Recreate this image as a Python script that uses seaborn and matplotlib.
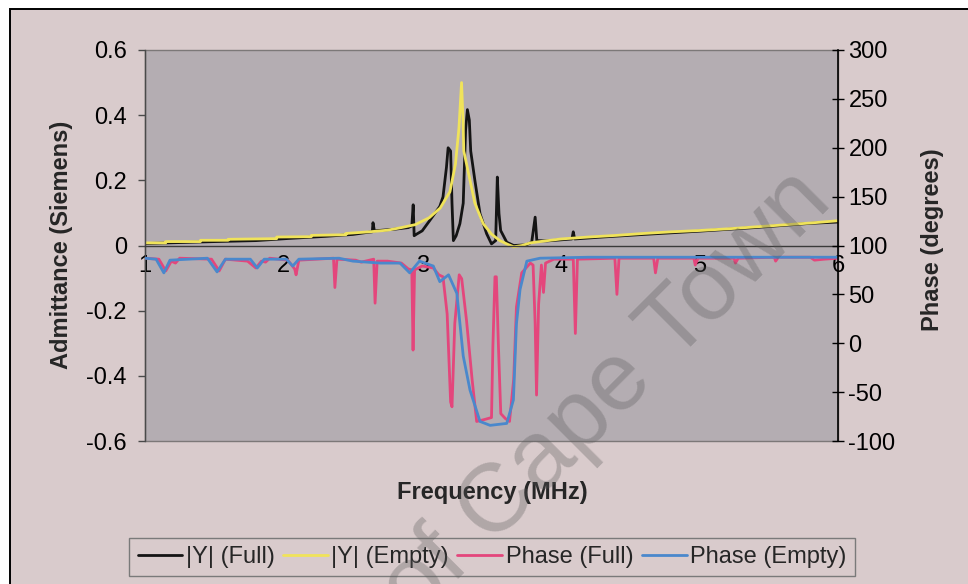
import matplotlib
matplotlib.use("Agg")
import matplotlib.pyplot as plt
from matplotlib.patches import Rectangle
import seaborn as sns
import pandas as pd

# ---------------- data ----------------
freq_y_empty = [1.0, 1.15, 1.15, 1.4, 1.4, 1.6, 1.6, 1.95, 1.95, 2.2, 2.2, 2.45, 2.45,
                2.62, 2.75, 2.85, 2.95, 3.05, 3.13, 3.20, 3.24, 3.265, 3.284, 3.295,
                3.30, 3.33, 3.38, 3.44, 3.50, 3.56, 3.62, 3.66, 3.72, 3.78, 3.85, 4.0,
                4.2, 4.4, 4.6, 4.8, 5.0, 5.2, 5.4, 5.6, 5.8, 6.0]
y_empty = [0.008, 0.008, 0.012, 0.012, 0.016, 0.016, 0.019, 0.021, 0.026, 0.027, 0.031,
           0.033, 0.037, 0.042, 0.047, 0.055, 0.064, 0.085, 0.115, 0.165, 0.25, 0.36,
           0.50, 0.38, 0.29, 0.23, 0.13, 0.067, 0.035, 0.015, 0.003, -0.004, 0.0,
           0.008, 0.012, 0.02, 0.026, 0.031, 0.037, 0.042, 0.046, 0.051, 0.057, 0.063,
           0.069, 0.076]

freq_y_full = [1.0, 1.5, 1.8, 2.05, 2.3, 2.5, 2.60, 2.64, 2.645, 2.655, 2.80, 2.90, 2.925,
               2.935, 2.942, 2.96, 3.0, 3.055, 3.127, 3.15, 3.175, 3.187, 3.205, 3.215,
               3.225, 3.245, 3.272, 3.296, 3.313, 3.326, 3.34, 3.35, 3.38, 3.417, 3.465,
               3.50, 3.53, 3.542, 3.554, 3.566, 3.61, 3.66, 3.75, 3.79, 3.815, 3.827, 3.9,
               4.08, 4.09, 4.10, 4.3, 4.6, 5.0, 5.4, 5.8, 6.0]
y_full = [0.006, 0.012, 0.015, 0.022, 0.028, 0.034, 0.040, 0.042, 0.07, 0.045, 0.05, 0.055,
          0.06, 0.125, 0.03, 0.035, 0.045, 0.077, 0.12, 0.149, 0.24, 0.30, 0.29, 0.13,
          0.015, 0.03, 0.067, 0.13, 0.354, 0.417, 0.385, 0.29, 0.20, 0.098, 0.036,
          0.005, 0.015, 0.21, 0.098, 0.046, 0.01, 0.0, 0.002, 0.01, 0.087, 0.015, 0.014,
          0.02, 0.042, 0.02, 0.026, 0.034, 0.044, 0.055, 0.068, 0.072]

freq_ph_full = [1.0, 1.10, 1.15, 1.19, 1.22, 1.25, 1.48, 1.535, 1.58, 1.74, 1.80, 1.84,
                1.87, 1.9, 2.03, 2.08, 2.09, 2.11, 2.36, 2.37, 2.385, 2.52, 2.56, 2.65,
                2.66, 2.675, 2.75, 2.85, 2.90, 2.925, 2.934, 2.945, 3.0, 3.08, 3.12, 3.15,
                3.18, 3.205, 3.215, 3.235, 3.267, 3.285, 3.32, 3.36, 3.393, 3.45, 3.50,
                3.51, 3.525, 3.535, 3.55, 3.567, 3.60, 3.63, 3.66, 3.68, 3.718, 3.78,
                3.80, 3.815, 3.825, 3.84, 3.86, 3.875, 3.89, 3.95, 4.09, 4.105, 4.12,
                4.39, 4.405, 4.42, 4.67, 4.683, 4.70, 4.96, 4.97, 4.99, 5.25, 5.26,
                5.28, 5.54, 5.55, 5.57, 5.80, 5.83, 5.90, 6.0]
ph_full = [87, 86, 74, 84, 82, 87, 86, 74, 86, 84, 77, 84, 83, 87, 85, 76, 70, 85, 87, 57,
           86, 85, 83, 86, 41, 84, 84, 82, 76, 75, -7, 75, 79, 77, 70, 68, 30, -60, -65,
           20, 70, 66, 23, -37, -80, -78, -76, -3, 68, 68, -3, -72, -77, -80, -37, 37,
           72, 82, 80, 20, -53, 40, 80, 52, 82, 86, 86, 10, 86, 87, 50, 87, 87, 72, 87,
           87, 80, 87, 87, 82, 87, 88, 84, 88, 88, 85, 86, 87]

freq_ph_empty = [1.0, 1.08, 1.136, 1.18, 1.45, 1.52, 1.58, 1.76, 1.81, 1.86, 2.02, 2.066,
                 2.11, 2.4, 2.5, 2.6, 2.7, 2.84, 2.91, 2.98, 3.08, 3.127, 3.19, 3.25,
                 3.296, 3.345, 3.417, 3.49, 3.61, 3.658, 3.68, 3.706, 3.755, 3.85, 4.2,
                 5.0, 6.0]
ph_empty = [87, 86, 72, 85, 87, 73, 86, 86, 77, 86, 86, 79, 86, 87, 84, 83, 82, 82, 72, 84,
            79, 63, 70, 51, -13, -48, -80, -84, -82, -58, 20, 55, 84, 87, 88, 88, 88]

labels = ["|Y| (Full)", "|Y| (Empty)", "Phase (Full)", "Phase (Empty)"]
colors = ["#141414", "#F0E35A", "#E4467C", "#4A88CC"]
left_ticks = [-0.6, -0.4, -0.2, 0, 0.2, 0.4, 0.6]
left_tick_labels = ["-0.6", "-0.4", "-0.2", "0", "0.2", "0.4", "0.6"]
right_ticks = [-100, -50, 0, 50, 100, 150, 200, 250, 300]
right_tick_labels = [str(t) for t in right_ticks]
x_ticks = [1, 2, 3, 4, 5, 6]

# ---------------- style ----------------
sns.set_theme(style="white")
plt.rcParams["font.family"] = ["Liberation Sans", "DejaVu Sans"]
plt.rcParams["axes.unicode_minus"] = False

BG = "#D9CBCC"
PLOT_BG = "#B4ADB2"
W, H = 968, 584

fig = plt.figure(figsize=(W / 100, H / 100), dpi=100, facecolor="white")
fig.patches.append(Rectangle((10 / W, -0.1), 1.2, 1.1 - 9 / H, transform=fig.transFigure,
                             facecolor=BG, edgecolor="black", lw=1.4, zorder=-10))

ax = fig.add_axes([145 / W, 1 - 441 / H, (838 - 145) / W, (441 - 50) / H])
ax.set_facecolor(PLOT_BG)
ax2 = ax.twinx()

lw = 2.0
d1 = pd.DataFrame({"f": freq_y_full, "v": y_full})
d2 = pd.DataFrame({"f": freq_y_empty, "v": y_empty})
d3 = pd.DataFrame({"f": freq_ph_full, "v": ph_full})
d4 = pd.DataFrame({"f": freq_ph_empty, "v": ph_empty})
sns.lineplot(data=d1, x="f", y="v", ax=ax, color=colors[0], lw=lw, estimator=None, sort=False)
sns.lineplot(data=d2, x="f", y="v", ax=ax, color=colors[1], lw=lw, estimator=None, sort=False)
sns.lineplot(data=d3, x="f", y="v", ax=ax2, color=colors[2], lw=lw, estimator=None, sort=False)
sns.lineplot(data=d4, x="f", y="v", ax=ax2, color=colors[3], lw=lw, estimator=None, sort=False)

ax.set_xlim(1, 6)
ax.set_ylim(-0.6, 0.6)
ax2.set_ylim(-100, 300)

ax.set_yticks(left_ticks)
ax.set_yticklabels(left_tick_labels)
ax2.set_yticks(right_ticks)
ax2.set_yticklabels(right_tick_labels)
ax.set_xticks(x_ticks)
ax.set_xticklabels([str(t) for t in x_ticks])

for s in ["top", "right"]:
    ax.spines[s].set_visible(False)
ax.spines["left"].set_color("#4a4a4a")
ax.spines["left"].set_linewidth(1.0)
ax.spines["bottom"].set_position(("data", 0))
ax.spines["bottom"].set_color("#3a3a3a")
ax.spines["bottom"].set_linewidth(1.0)
for s in ["top", "left", "bottom"]:
    ax2.spines[s].set_visible(False)
ax2.spines["right"].set_color("black")
ax2.spines["right"].set_linewidth(1.2)

ax.add_patch(Rectangle((0, 0), 1, 1, transform=ax.transAxes, fill=False,
                       edgecolor="#7c7878", lw=1.0, clip_on=False, zorder=0))

fs = 17
ax.tick_params(axis="y", direction="out", length=5, width=1, pad=8, labelsize=fs,
               colors="#4a4a4a", labelcolor="black")
ax.tick_params(axis="x", direction="out", length=4, width=1, pad=3, labelsize=fs,
               colors="#3a3a3a", labelcolor="black")
ax2.tick_params(axis="y", direction="inout", length=9, width=1, pad=3, labelsize=fs,
                colors="black", labelcolor="black")

ax.set_xlabel("")
ax.set_ylabel("")
ax2.set_ylabel("")
fig.text(62 / W, 1 - 245 / H, "Admittance (Siemens)", rotation=90, ha="center", va="center",
         fontsize=fs, fontweight="bold")
fig.text(932 / W, 1 - 240 / H, "Phase (degrees)", rotation=90, ha="center", va="center",
         fontsize=fs, fontweight="bold")
fig.text(492 / W, 1 - 492 / H, "Frequency (MHz)", ha="center", va="center",
         fontsize=fs, fontweight="bold")

handles = ax.get_lines()[:2] + ax2.get_lines()[:2]
leg = fig.legend(handles, labels, loc="center", bbox_to_anchor=(492 / W, 1 - 557 / H),
                 ncol=4, frameon=True, fancybox=False, edgecolor="#7a7a7a", facecolor=BG,
                 fontsize=fs, handlelength=1.9, handletextpad=0.15, columnspacing=0.35,
                 borderpad=0.35, framealpha=1)
leg.get_frame().set_linewidth(1.0)

# watermark
fig.text(446 / W, 1 - 556 / H, "University of Cape Town", rotation=45, rotation_mode="anchor",
         ha="center", va="center", fontsize=70, color="#5a5a5a", alpha=0.32, zorder=50)

fig.savefig("out.png", dpi=100, facecolor=fig.get_facecolor())
